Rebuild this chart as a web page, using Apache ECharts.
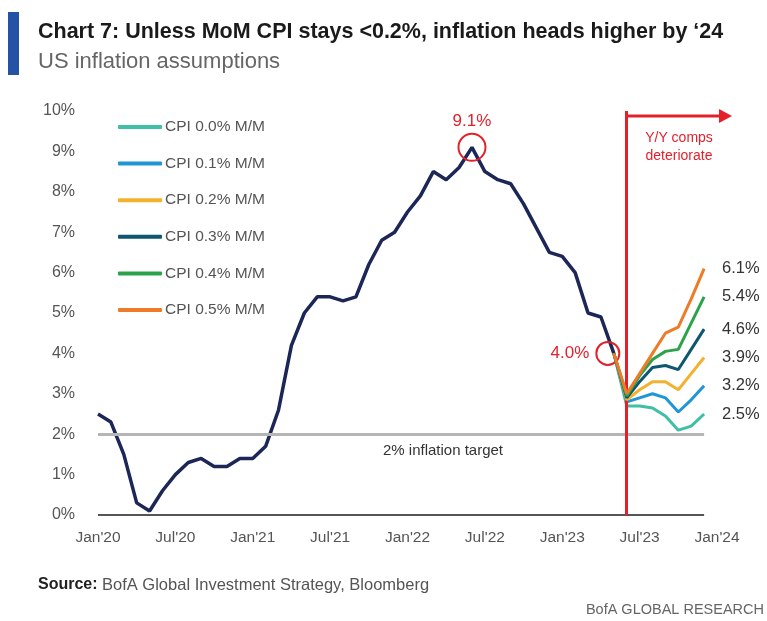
<!DOCTYPE html>
<html>
<head>
<meta charset="utf-8">
<script src="https://cdn.jsdelivr.net/npm/echarts@6/dist/echarts.min.js"></script>
<style>
html, body { margin: 0; padding: 0; background: #fff; }
#main { width: 767px; height: 621px; }
</style>
</head>
<body>
<div id="main"></div>
<script>
// tick labels on the x axis (every 6 months)
var tickLabels = ["Jan'20", "Jul'20", "Jan'21", "Jul'21", "Jan'22", "Jul'22", "Jan'23", "Jul'23", "Jan'24"];

// monthly categories Jan'20 .. Jan'24
var monthNames = ['Jan','Feb','Mar','Apr','May','Jun','Jul','Aug','Sep','Oct','Nov','Dec'];
var years = ['20', '21', '22', '23'];
var months = [];
years.forEach(function (y) {
    monthNames.forEach(function (m) { months.push(m + "'" + y); });
});
months.push("Jan'24");

// US CPI Y/Y, Jan'20 .. May'23
var cpiActual = [
    2.5, 2.3, 1.5, 0.3, 0.1, 0.6, 1.0, 1.3, 1.4, 1.2, 1.2, 1.4,
    1.4, 1.7, 2.6, 4.2, 5.0, 5.4, 5.4, 5.3, 5.4, 6.2, 6.8, 7.0,
    7.5, 7.9, 8.5, 8.3, 8.6, 9.1, 8.5, 8.3, 8.2, 7.7, 7.1, 6.5,
    6.4, 6.0, 5.0, 4.9, 4.0
];

// scenario paths, May'23 .. Dec'23
var cpi00 = [4.0, 2.7, 2.7, 2.65, 2.45, 2.1, 2.2, 2.5];
var cpi01 = [4.0, 2.8, 2.9, 3.0, 2.9, 2.55, 2.85, 3.2];
var cpi02 = [4.0, 2.85, 3.1, 3.3, 3.3, 3.1, 3.5, 3.9];
var cpi03 = [4.0, 2.9, 3.3, 3.65, 3.7, 3.6, 4.1, 4.6];
var cpi04 = [4.0, 2.95, 3.45, 3.85, 4.05, 4.1, 4.75, 5.4];
var cpi05 = [4.0, 3.0, 3.5, 4.0, 4.5, 4.65, 5.35, 6.1];

var scenarioNames = ['CPI 0.0% M/M', 'CPI 0.1% M/M', 'CPI 0.2% M/M', 'CPI 0.3% M/M', 'CPI 0.4% M/M', 'CPI 0.5% M/M'];
var scenarioColors = ['#3fbfa6', '#2196d6', '#f3b12e', '#0f5670', '#2ca34b', '#ee7b25'];
var scenarioData = [cpi00, cpi01, cpi02, cpi03, cpi04, cpi05];

var RED = '#e3212b';
var FONT = "'Liberation Sans', Arial, sans-serif";

function pad(vals) {
    var out = [];
    for (var i = 0; i < cpiActual.length - 1; i++) out.push(null);
    return out.concat(vals);
}

var series = [{
    name: 'CPI Y/Y',
    type: 'line',
    data: cpiActual,
    symbol: 'none',
    lineStyle: { color: '#1c2757', width: 3.5 },
    itemStyle: { color: '#1c2757' },
    silent: true,
    markLine: {
        silent: true,
        symbol: 'none',
        animation: false,
        data: [
            [{ coord: ["Jan'20", 2], lineStyle: { color: '#b5b5b5', width: 3, type: 'solid' }, label: { show: false } },
             { coord: ["Dec'23", 2] }],
            [{ coord: ["Jan'20", 0], lineStyle: { color: '#555', width: 2, type: 'solid' }, label: { show: false } },
             { coord: ["Dec'23", 0] }],
            { xAxis: "Jun'23", lineStyle: { color: RED, width: 3, type: 'solid' }, label: { show: false } }
        ]
    },
    markPoint: {
        silent: true,
        symbol: 'circle',
        itemStyle: { color: 'rgba(0,0,0,0)', borderColor: RED, borderWidth: 2 },
        label: {
            color: RED, fontSize: 17, fontFamily: FONT,
            formatter: function (p) { return p.value.toFixed(1) + '%'; }
        },
        data: [
            { coord: ["Jun'22", 9.1], value: 9.1, symbolSize: 27, label: { position: 'top', distance: 3 } },
            { coord: ["May'23", 4.0], value: 4.0, symbolSize: 23, symbolOffset: [-6, 0], label: { position: 'left', distance: 6 } }
        ]
    },
    z: 2
}];

scenarioData.forEach(function (vals, i) {
    series.push({
        name: scenarioNames[i],
        type: 'line',
        data: pad(vals),
        symbol: 'none',
        lineStyle: { color: scenarioColors[i], width: 3 },
        itemStyle: { color: scenarioColors[i] },
        silent: true,
        endLabel: {
            show: true,
            distance: 18,
            color: '#333',
            fontSize: 16.5,
            fontFamily: FONT,
            formatter: function (p) { return p.value.toFixed(1) + '%'; }
        },
        z: 3 + i
    });
});

var chart = echarts.init(document.getElementById('main'));
chart.setOption({
    animation: false,
    textStyle: { fontFamily: FONT },
    grid: { left: 98, right: 50, top: 111, bottom: 106 },
    legend: {
        data: scenarioNames,
        orient: 'vertical',
        left: 118,
        top: 119,
        padding: 0,
        itemWidth: 44,
        itemHeight: 4,
        itemGap: 20.6,
        icon: 'roundRect',
        selectedMode: false,
        textStyle: { color: '#555', fontSize: 15.5, lineHeight: 16, fontFamily: FONT, padding: [0, 0, 0, -2] }
    },
    xAxis: {
        type: 'category',
        data: months,
        boundaryGap: false,
        axisLine: { show: false },
        axisTick: { show: false },
        splitLine: { show: false },
        axisLabel: {
            color: '#555',
            fontSize: 15.5,
            margin: 15,
            interval: function (idx) { return idx % 6 === 0; },
            formatter: function (v, idx) { return tickLabels[idx / 6]; }
        }
    },
    yAxis: {
        type: 'value',
        min: 0,
        max: 10,
        interval: 1,
        axisLine: { show: false },
        axisTick: { show: false },
        splitLine: { show: false },
        axisLabel: { color: '#555', fontSize: 16, margin: 23, formatter: '{value}%' }
    },
    series: series,
    graphic: [
        { type: 'rect', shape: { x: 8, y: 12, width: 11, height: 63 }, style: { fill: '#2452a4' } },
        { type: 'text', x: 38, y: 32, style: { text: "Chart 7: Unless MoM CPI stays <0.2%, inflation heads higher by \u201824", font: "bold 21.5px " + FONT, fill: '#1a1a1a', verticalAlign: 'middle' } },
        { type: 'text', x: 38, y: 62, style: { text: 'US inflation assumptions', font: "22px " + FONT, fill: '#666', verticalAlign: 'middle' } },
        { type: 'text', x: 443, y: 451, style: { text: '2% inflation target', font: "15px " + FONT, fill: '#333', align: 'center', verticalAlign: 'middle' } },
        { type: 'line', shape: { x1: 627, y1: 116, x2: 722, y2: 116 }, style: { stroke: RED, lineWidth: 3 } },
        { type: 'polygon', shape: { points: [[719, 109], [732, 116], [719, 123]] }, style: { fill: RED } },
        { type: 'text', x: 679, y: 138, style: { text: 'Y/Y comps', font: "14px " + FONT, fill: RED, align: 'center', verticalAlign: 'middle' } },
        { type: 'text', x: 679, y: 156, style: { text: 'deteriorate', font: "14px " + FONT, fill: RED, align: 'center', verticalAlign: 'middle' } },
        { type: 'text', x: 38, y: 585, style: { text: 'Source:', font: "bold 16px " + FONT, fill: '#222', verticalAlign: 'middle' } },
        { type: 'text', x: 102, y: 585, style: { text: 'BofA Global Investment Strategy, Bloomberg', font: "16.5px " + FONT, fill: '#555', verticalAlign: 'middle' } },
        { type: 'text', x: 764, y: 610, style: { text: 'BofA GLOBAL RESEARCH', font: "14.5px " + FONT, fill: '#666', align: 'right', verticalAlign: 'middle' } }
    ]
});
</script>
</body>
</html>
